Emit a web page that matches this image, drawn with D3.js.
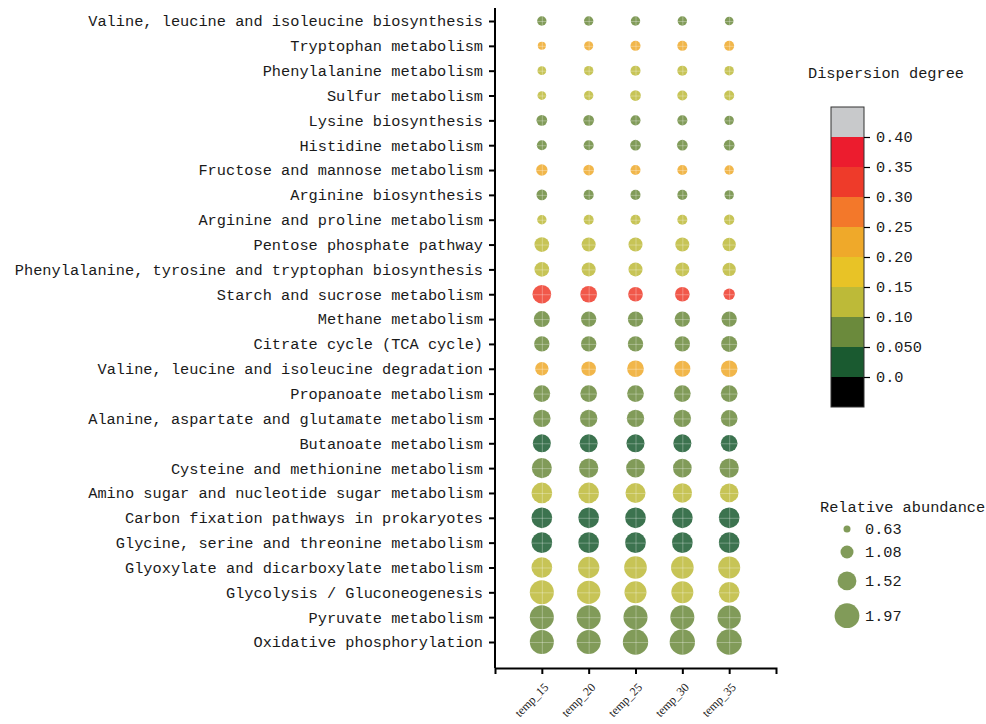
<!DOCTYPE html>
<html>
<head>
<meta charset="utf-8">
<script src="https://cdn.jsdelivr.net/npm/d3@7"></script>
<style>
  html, body { margin: 0; padding: 0; background: #fff; }
  svg { display: block; }
  text { fill: #1a1a1a; }
  .mono { font-family: "Liberation Mono", "DejaVu Sans Mono", monospace; font-size: 15.3px; }
  .serif { font-family: "Liberation Serif", "DejaVu Serif", serif; font-size: 12px; }
</style>
</head>
<body>
<svg id="chart" width="986" height="724"></svg>
<script>
// Pathways, listed top to bottom
const pathways = [
  "Valine, leucine and isoleucine biosynthesis",
  "Tryptophan metabolism",
  "Phenylalanine metabolism",
  "Sulfur metabolism",
  "Lysine biosynthesis",
  "Histidine metabolism",
  "Fructose and mannose metabolism",
  "Arginine biosynthesis",
  "Arginine and proline metabolism",
  "Pentose phosphate pathway",
  "Phenylalanine, tyrosine and tryptophan biosynthesis",
  "Starch and sucrose metabolism",
  "Methane metabolism",
  "Citrate cycle (TCA cycle)",
  "Valine, leucine and isoleucine degradation",
  "Propanoate metabolism",
  "Alanine, aspartate and glutamate metabolism",
  "Butanoate metabolism",
  "Cysteine and methionine metabolism",
  "Amino sugar and nucleotide sugar metabolism",
  "Carbon fixation pathways in prokaryotes",
  "Glycine, serine and threonine metabolism",
  "Glyoxylate and dicarboxylate metabolism",
  "Glycolysis / Gluconeogenesis",
  "Pyruvate metabolism",
  "Oxidative phosphorylation"
];

const groups = ["temp_15", "temp_20", "temp_25", "temp_30", "temp_35"];

// Relative abundance per pathway (rows) and temperature (columns)
const abundance = [
  [0.81, 0.81, 0.81, 0.81, 0.76],
  [0.71, 0.79, 0.86, 0.86, 0.86],
  [0.76, 0.81, 0.86, 0.86, 0.81],
  [0.76, 0.81, 0.91, 0.86, 0.86],
  [0.91, 0.91, 0.86, 0.86, 0.81],
  [0.86, 0.86, 0.91, 0.91, 0.91],
  [0.96, 0.91, 0.86, 0.86, 0.81],
  [0.91, 0.86, 0.86, 0.86, 0.81],
  [0.81, 0.86, 0.86, 0.86, 0.88],
  [1.21, 1.16, 1.16, 1.16, 1.11],
  [1.21, 1.16, 1.16, 1.16, 1.11],
  [1.51, 1.36, 1.21, 1.21, 0.96],
  [1.31, 1.26, 1.26, 1.26, 1.26],
  [1.26, 1.26, 1.26, 1.26, 1.31],
  [1.11, 1.21, 1.36, 1.31, 1.36],
  [1.36, 1.36, 1.36, 1.36, 1.36],
  [1.41, 1.41, 1.41, 1.41, 1.36],
  [1.46, 1.46, 1.46, 1.46, 1.36],
  [1.61, 1.56, 1.51, 1.51, 1.56],
  [1.66, 1.66, 1.61, 1.56, 1.51],
  [1.66, 1.66, 1.66, 1.66, 1.66],
  [1.66, 1.66, 1.66, 1.66, 1.66],
  [1.66, 1.71, 1.81, 1.81, 1.76],
  [1.91, 1.86, 1.76, 1.76, 1.66],
  [1.91, 1.91, 1.91, 1.91, 1.86],
  [1.91, 1.91, 2.01, 2.01, 2.01]
];

// Dispersion degree of each pathway across the temperatures
const dispersion = [
  0.08, 0.22, 0.12, 0.13, 0.07, 0.07, 0.21, 0.08, 0.12, 0.12,
  0.13, 0.33, 0.07, 0.06, 0.23, 0.08, 0.07, 0.04, 0.09, 0.12,
  0.03, 0.04, 0.13, 0.14, 0.06, 0.06
];

// Colour bins of the dispersion scale
const binBreaks = [0, 0.05, 0.10, 0.15, 0.20, 0.25, 0.30, 0.35, 0.40];
const binColors = ["#000000", "#1a5a30", "#6b8a3c", "#bdba38", "#e8c326",
                   "#efa92a", "#f3782a", "#ee3b2a", "#ec1c2e", "#c8c9cb"];
const binTickLabels = ["0.0", "0.050", "0.10", "0.15", "0.20", "0.25", "0.30", "0.35", "0.40"];

// Size legend entries
const sizeLegendValues = [0.63, 1.08, 1.52, 1.97];
const sizeLegendLabels = ["0.63", "1.08", "1.52", "1.97"];

const svg = d3.select("#chart");

const x = d3.scalePoint().domain(groups).range([495, 776]).padding(1);
const y = d3.scalePoint().domain(pathways).range([21, 642]);
const r = d3.scaleLinear().domain([0.63, 1.97]).range([3.5, 12.4]);
const color = d3.scaleThreshold().domain(binBreaks).range(binColors);

// Cells
const cells = [];
pathways.forEach((p, i) => {
  groups.forEach((g, j) => {
    cells.push({ pathway: p, group: g, value: abundance[i][j], disp: dispersion[i] });
  });
});

const dots = svg.append("g");
dots.selectAll("circle")
  .data(cells)
  .join("circle")
  .attr("cx", d => x(d.group))
  .attr("cy", d => y(d.pathway))
  .attr("r", d => r(d.value))
  .attr("fill", d => color(d.disp))
  .attr("fill-opacity", 0.85);

// Light cross lines over each dot
const cross = svg.append("g")
  .attr("stroke", "#ffffff")
  .attr("stroke-opacity", 0.3)
  .attr("stroke-width", 1);
cross.selectAll("line.h")
  .data(cells)
  .join("line")
  .attr("class", "h")
  .attr("x1", d => x(d.group) - r(d.value))
  .attr("x2", d => x(d.group) + r(d.value))
  .attr("y1", d => y(d.pathway) + 0.5)
  .attr("y2", d => y(d.pathway) + 0.5);
cross.selectAll("line.v")
  .data(cells)
  .join("line")
  .attr("class", "v")
  .attr("x1", d => x(d.group) + 0.5)
  .attr("x2", d => x(d.group) + 0.5)
  .attr("y1", d => y(d.pathway) - r(d.value))
  .attr("y2", d => y(d.pathway) + r(d.value));

// Y axis
const yAxisG = svg.append("g")
  .attr("transform", "translate(495,0)")
  .call(d3.axisLeft(y).tickSize(6).tickSizeOuter(0).tickPadding(6));
yAxisG.select(".domain").attr("d", "M0,8V668");
yAxisG.selectAll("path, line").attr("stroke", "#000").attr("stroke-width", 2);
yAxisG.selectAll("text")
  .attr("class", "mono")
  .attr("fill", "#1a1a1a")
  .style("font-family", null)
  .attr("font-family", null)
  .attr("font-size", null);
yAxisG.attr("font-family", null).attr("font-size", null);

// X axis
const xAxisG = svg.append("g")
  .attr("transform", "translate(0,668)")
  .call(d3.axisBottom(x).tickSize(6).tickSizeOuter(6));
xAxisG.selectAll("path, line").attr("stroke", "#000").attr("stroke-width", 2);
xAxisG.attr("font-family", null).attr("font-size", null);
xAxisG.selectAll("text")
  .attr("class", "serif")
  .attr("y", null)
  .attr("dy", null)
  .attr("text-anchor", "end")
  .attr("transform", d => `translate(7,20) rotate(-45)`);

// Dispersion colour bar
const cbX = 831, cbW = 33;
const cy = d3.scaleLinear().domain([-0.05, 0.45]).range([407, 107]);
const segEdges = [-0.05].concat(binBreaks, [0.45]);
const segs = binColors.map((c, i) => ({ c, lo: segEdges[i], hi: segEdges[i + 1] }));
const cb = svg.append("g");
cb.selectAll("rect")
  .data(segs)
  .join("rect")
  .attr("x", cbX)
  .attr("width", cbW)
  .attr("y", d => cy(d.hi))
  .attr("height", d => cy(d.lo) - cy(d.hi))
  .attr("fill", d => d.c);
cb.append("rect")
  .attr("x", cbX).attr("y", cy(0.45))
  .attr("width", cbW).attr("height", cy(-0.05) - cy(0.45))
  .attr("fill", "none").attr("stroke", "#333").attr("stroke-width", 1);

const cbAxis = svg.append("g")
  .attr("transform", `translate(${cbX + cbW},0)`)
  .call(d3.axisRight(cy).tickValues(binBreaks)
    .tickFormat((d, i) => binTickLabels[i]).tickSize(6).tickPadding(6));
cbAxis.select(".domain").remove();
cbAxis.selectAll("line").attr("stroke", "#000").attr("stroke-width", 1.2);
cbAxis.attr("font-family", null).attr("font-size", null);
cbAxis.selectAll("text").attr("class", "mono");

svg.append("text")
  .attr("class", "mono")
  .attr("x", 808).attr("y", 78)
  .text("Dispersion degree");

// Size legend
svg.append("text")
  .attr("class", "mono")
  .attr("x", 820).attr("y", 512)
  .text("Relative abundance");

const legY = [];
sizeLegendValues.forEach((v, i) => {
  if (i === 0) legY.push(529);
  else legY.push(legY[i - 1] + r(sizeLegendValues[i - 1]) + r(v) + 13);
});
const sl = svg.append("g");
sl.selectAll("circle")
  .data(sizeLegendValues)
  .join("circle")
  .attr("cx", 847)
  .attr("cy", (d, i) => legY[i])
  .attr("r", d => r(d))
  .attr("fill", binColors[2])
  .attr("fill-opacity", 0.85);
sl.selectAll("text")
  .data(sizeLegendLabels)
  .join("text")
  .attr("class", "mono")
  .attr("x", 865)
  .attr("y", (d, i) => legY[i])
  .attr("dy", "0.35em")
  .text(d => d);
</script>
</body>
</html>
